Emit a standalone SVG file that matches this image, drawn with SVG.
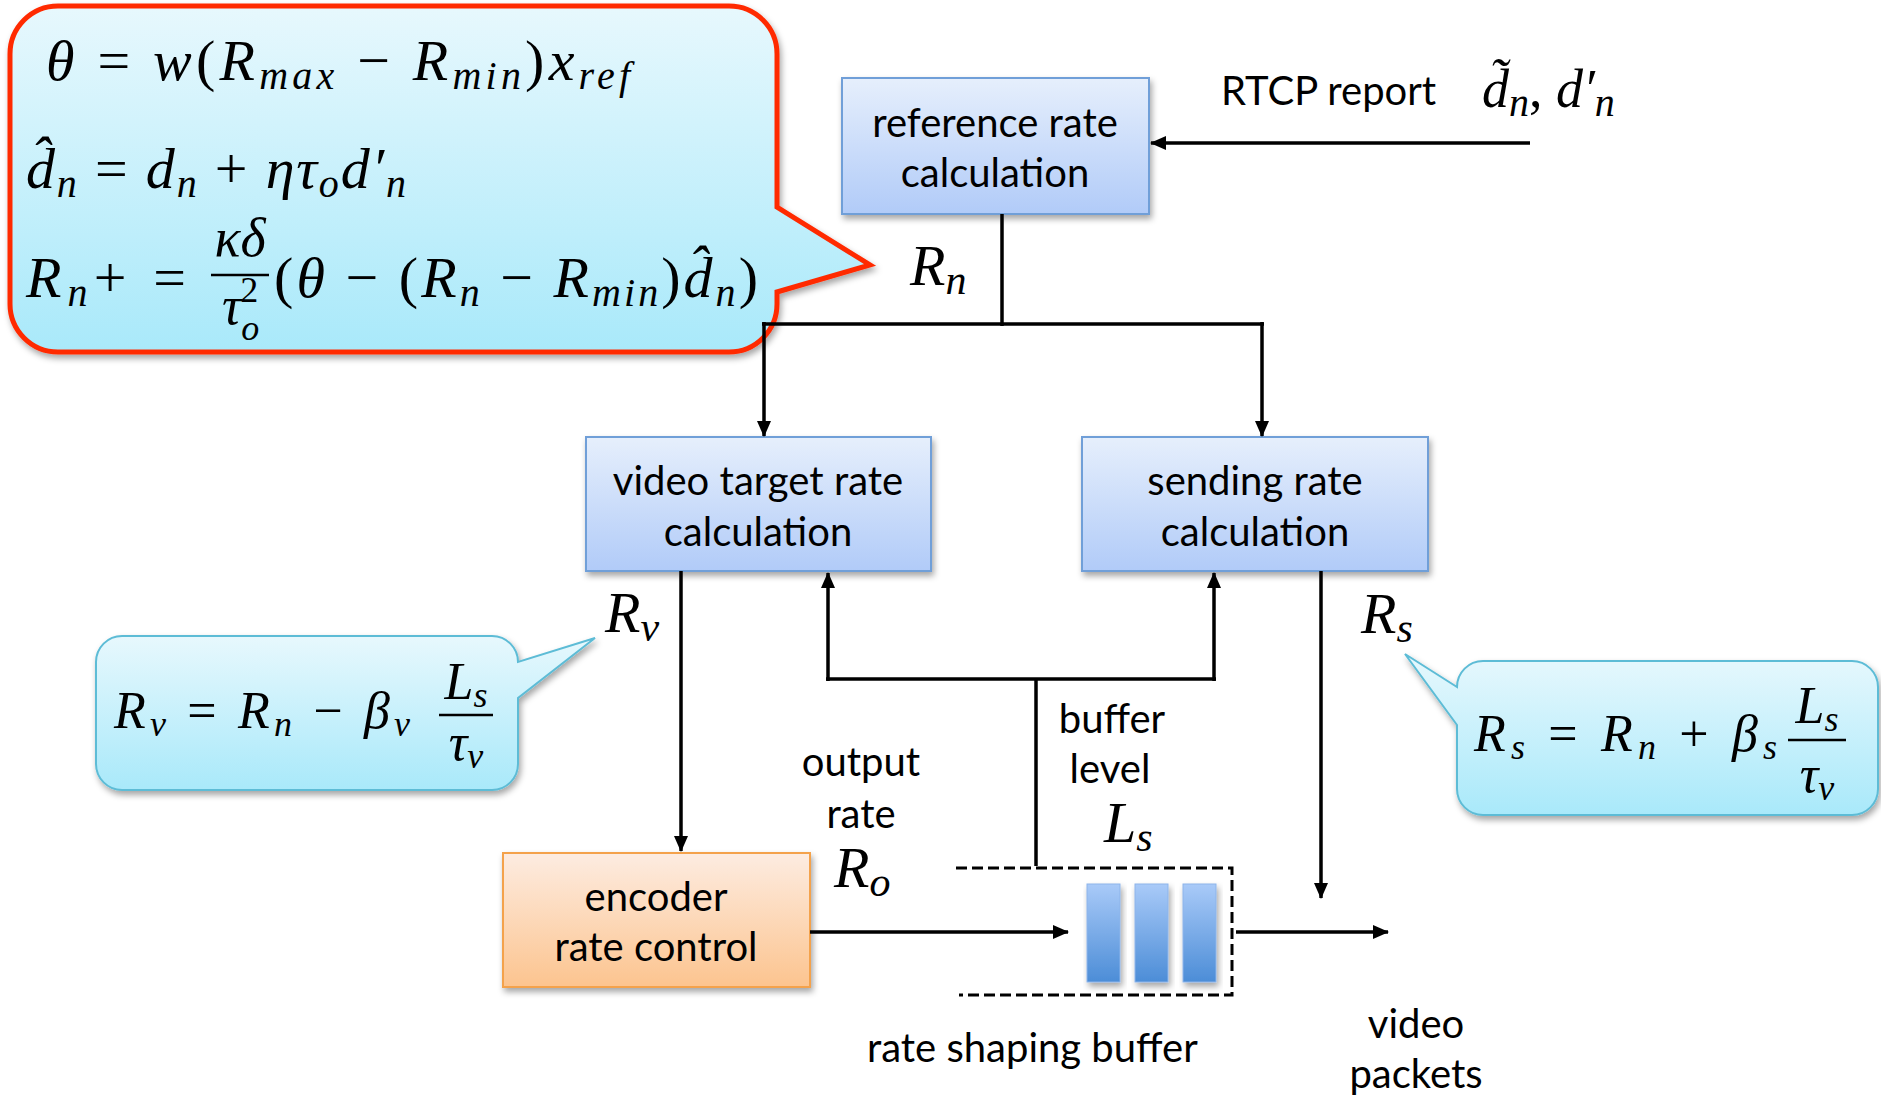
<svg xmlns="http://www.w3.org/2000/svg" width="1881" height="1099" viewBox="0 0 1881 1099">
<style>
.t{font-family:Lato,"Liberation Sans",sans-serif;font-size:40px;fill:#000;text-anchor:middle}
.tl{font-family:Lato,"Liberation Sans",sans-serif;font-size:40px;fill:#000}
.m{font-family:"Liberation Serif",serif;font-size:58px;fill:#000}
.i{font-style:italic}
.s{font-size:40px}
.ln{fill:none;stroke:#000;stroke-width:3.5}
.box{stroke:#6f9fd8;stroke-width:2}
</style>
<defs>
<linearGradient id="gBlue" x1="0" y1="0" x2="0" y2="1"><stop offset="0" stop-color="#e6effc"/><stop offset="1" stop-color="#b1cbf8"/></linearGradient>
<linearGradient id="gOrange" x1="0" y1="0" x2="0" y2="1"><stop offset="0" stop-color="#fdece1"/><stop offset="1" stop-color="#fcc48f"/></linearGradient>
<linearGradient id="gCyan" x1="0" y1="0" x2="0" y2="1"><stop offset="0" stop-color="#e7f8fd"/><stop offset="1" stop-color="#a9e9fa"/></linearGradient>
<linearGradient id="gBar" x1="0" y1="0" x2="0" y2="1"><stop offset="0" stop-color="#a9caf8"/><stop offset="1" stop-color="#4c8dd7"/></linearGradient>
<filter id="sh" x="-10%" y="-10%" width="130%" height="130%"><feDropShadow dx="2" dy="4" stdDeviation="3" flood-color="#000" flood-opacity="0.35"/></filter>
<marker id="ah" viewBox="0 0 16 14" refX="15" refY="7" markerWidth="16" markerHeight="14" orient="auto" markerUnits="userSpaceOnUse"><path d="M0,0 L16,7 L0,14 Z" fill="#000"/></marker>
</defs>

<g id="callout-reference">
<path d="M58,6 H729 A48,48 0 0 1 777,54 V207 L870,265 L777,292 V304 A48,48 0 0 1 729,352 H58 A48,48 0 0 1 10,304 V54 A48,48 0 0 1 58,6 Z" fill="url(#gCyan)" stroke="#ff2a00" stroke-width="5" filter="url(#sh)"/>
<text class="m" x="46" y="80" textLength="584"><tspan class="i">θ</tspan> = <tspan class="i">w</tspan>(<tspan class="i">R</tspan><tspan class="i s" dy="9">max</tspan><tspan dy="-9"> − </tspan><tspan class="i">R</tspan><tspan class="i s" dy="9">min</tspan><tspan dy="-9">)</tspan><tspan class="i">x</tspan><tspan class="i s" dy="9">ref</tspan></text>
<text class="m" x="26" y="188" textLength="380"><tspan class="i">d̂</tspan><tspan class="i s" dy="9">n</tspan><tspan dy="-9"> = </tspan><tspan class="i">d</tspan><tspan class="i s" dy="9">n</tspan><tspan dy="-9"> + </tspan><tspan class="i">ητ</tspan><tspan class="i s" dy="9">o</tspan><tspan class="i" dy="-9">d′</tspan><tspan class="i s" dy="9">n</tspan></text>
<text class="m" x="26" y="297" textLength="160"><tspan class="i">R</tspan><tspan class="i s" dy="9">n</tspan><tspan dy="-9">+ =</tspan></text>
<text class="m i" x="240" y="256" text-anchor="middle" style="font-size:54px">κδ</text>
<line x1="211" y1="275" x2="269" y2="275" stroke="#000" stroke-width="2.5"/>
<text class="m" x="222" y="324" style="font-size:54px"><tspan class="i">τ</tspan><tspan class="i" dy="16" style="font-size:36px">o</tspan><tspan dx="-19" dy="-38" style="font-size:36px">2</tspan></text>
<text class="m" x="274" y="297" textLength="484">(<tspan class="i">θ</tspan> − (<tspan class="i">R</tspan><tspan class="i s" dy="9">n</tspan><tspan dy="-9"> − </tspan><tspan class="i">R</tspan><tspan class="i s" dy="9">min</tspan><tspan dy="-9">)</tspan><tspan class="i">d̂</tspan><tspan class="i s" dy="9">n</tspan><tspan dy="-9">)</tspan></text>
</g>

<g id="callout-video">
<path d="M122,636 H492 A26,26 0 0 1 518,662 L595,638 L518,698 V764 A26,26 0 0 1 492,790 H122 A26,26 0 0 1 96,764 V662 A26,26 0 0 1 122,636 Z" fill="url(#gCyan)" stroke="#5dbcd6" stroke-width="2" filter="url(#sh)"/>
<text class="m" x="114" y="728" style="font-size:52px" textLength="296"><tspan class="i">R</tspan><tspan class="i s" dy="8" style="font-size:36px">v</tspan><tspan dy="-8"> = </tspan><tspan class="i">R</tspan><tspan class="i s" dy="8" style="font-size:36px">n</tspan><tspan dy="-8"> − </tspan><tspan class="i">β</tspan><tspan class="i s" dy="8" style="font-size:36px">v</tspan></text>
<text class="m i" x="466" y="699" text-anchor="middle" style="font-size:52px">L<tspan dy="8" style="font-size:36px">s</tspan></text>
<line x1="439" y1="715" x2="493" y2="715" stroke="#000" stroke-width="2.5"/>
<text class="m i" x="466" y="760" text-anchor="middle" style="font-size:52px">τ<tspan dy="8" style="font-size:36px">v</tspan></text>
</g>

<g id="callout-sending">
<path d="M1483,661 H1852 A26,26 0 0 1 1878,687 V789 A26,26 0 0 1 1852,815 H1483 A26,26 0 0 1 1457,789 V725 L1405,654 L1457,687 A26,26 0 0 1 1483,661 Z" fill="url(#gCyan)" stroke="#5dbcd6" stroke-width="2" filter="url(#sh)"/>
<text class="m" x="1474" y="751" style="font-size:52px" textLength="303"><tspan class="i">R</tspan><tspan class="i s" dy="8" style="font-size:36px">s</tspan><tspan dy="-8"> = </tspan><tspan class="i">R</tspan><tspan class="i s" dy="8" style="font-size:36px">n</tspan><tspan dy="-8"> + </tspan><tspan class="i">β</tspan><tspan class="i s" dy="8" style="font-size:36px">s</tspan></text>
<text class="m i" x="1817" y="723" text-anchor="middle" style="font-size:52px">L<tspan dy="8" style="font-size:36px">s</tspan></text>
<line x1="1788" y1="740" x2="1846" y2="740" stroke="#000" stroke-width="2.5"/>
<text class="m i" x="1817" y="792" text-anchor="middle" style="font-size:52px">τ<tspan dy="8" style="font-size:36px">v</tspan></text>
</g>

<g id="node-reference">
<rect x="842" y="78" width="307" height="136" fill="url(#gBlue)" class="box" filter="url(#sh)"/>
<text class="t" x="995" y="137">reference rate</text>
<text class="t" x="995" y="187">calculation</text>
</g>

<g id="node-video-target">
<rect x="586" y="437" width="345" height="134" fill="url(#gBlue)" class="box" filter="url(#sh)"/>
<text class="t" x="758" y="495">video target rate</text>
<text class="t" x="758" y="546">calculation</text>
</g>

<g id="node-sending">
<rect x="1082" y="437" width="346" height="134" fill="url(#gBlue)" class="box" filter="url(#sh)"/>
<text class="t" x="1255" y="495">sending rate</text>
<text class="t" x="1255" y="546">calculation</text>
</g>

<g id="node-encoder">
<rect x="503" y="853" width="307" height="134" fill="url(#gOrange)" stroke="#f4a24c" stroke-width="2" filter="url(#sh)"/>
<text class="t" x="656" y="911">encoder</text>
<text class="t" x="656" y="961">rate control</text>
</g>

<g id="node-buffer">
<rect x="1087" y="884" width="33" height="98" fill="url(#gBar)" stroke="#8db4ea" stroke-width="1" filter="url(#sh)"/>
<rect x="1135" y="884" width="33" height="98" fill="url(#gBar)" stroke="#8db4ea" stroke-width="1" filter="url(#sh)"/>
<rect x="1183" y="884" width="33" height="98" fill="url(#gBar)" stroke="#8db4ea" stroke-width="1" filter="url(#sh)"/>
<path d="M956,868 H1232 V995 H959" fill="none" stroke="#000" stroke-width="3" stroke-dasharray="11,5"/>
<text class="tl" x="867" y="1062">rate shaping buffer</text>
</g>

<g id="connectors">
<line class="ln" x1="1530" y1="143" x2="1151" y2="143" marker-end="url(#ah)"/>
<line class="ln" x1="1002" y1="214" x2="1002" y2="326"/>
<line class="ln" x1="762" y1="324" x2="1264" y2="324"/>
<line class="ln" x1="764" y1="322" x2="764" y2="436" marker-end="url(#ah)"/>
<line class="ln" x1="1262" y1="322" x2="1262" y2="436" marker-end="url(#ah)"/>
<line class="ln" x1="681" y1="571" x2="681" y2="851" marker-end="url(#ah)"/>
<line class="ln" x1="1036" y1="866" x2="1036" y2="679"/>
<line class="ln" x1="826" y1="679" x2="1216" y2="679"/>
<line class="ln" x1="828" y1="681" x2="828" y2="573" marker-end="url(#ah)"/>
<line class="ln" x1="1214" y1="681" x2="1214" y2="573" marker-end="url(#ah)"/>
<line class="ln" x1="1321" y1="571" x2="1321" y2="898" marker-end="url(#ah)"/>
<line class="ln" x1="810" y1="932" x2="1068" y2="932" marker-end="url(#ah)"/>
<line class="ln" x1="1236" y1="932" x2="1388" y2="932" marker-end="url(#ah)"/>
</g>

<g id="labels">
<text class="tl" x="1221" y="105">RTCP report</text>
<text class="m" x="1482" y="107" style="font-size:54px"><tspan class="i">d̃</tspan><tspan class="i s" dy="9">n</tspan><tspan dy="-9">, </tspan><tspan class="i">d′</tspan><tspan class="i s" dy="9">n</tspan></text>
<text class="m i" x="910" y="285" style="font-size:58px">R<tspan dy="9" style="font-size:42px">n</tspan></text>
<text class="m i" x="605" y="632" style="font-size:58px">R<tspan dy="9" style="font-size:42px">v</tspan></text>
<text class="m i" x="1361" y="633" style="font-size:58px">R<tspan dy="9" style="font-size:42px">s</tspan></text>
<text class="m i" x="834" y="887" style="font-size:58px">R<tspan dy="9" style="font-size:42px">o</tspan></text>
<text class="m i" x="1104" y="842" style="font-size:58px">L<tspan dy="9" style="font-size:42px">s</tspan></text>
<text class="t" x="861" y="776">output</text>
<text class="t" x="861" y="828">rate</text>
<text class="t" x="1112" y="733">buffer</text>
<text class="t" x="1110" y="783">level</text>
<text class="t" x="1416" y="1038">video</text>
<text class="t" x="1416" y="1088">packets</text>
</g>
</svg>
